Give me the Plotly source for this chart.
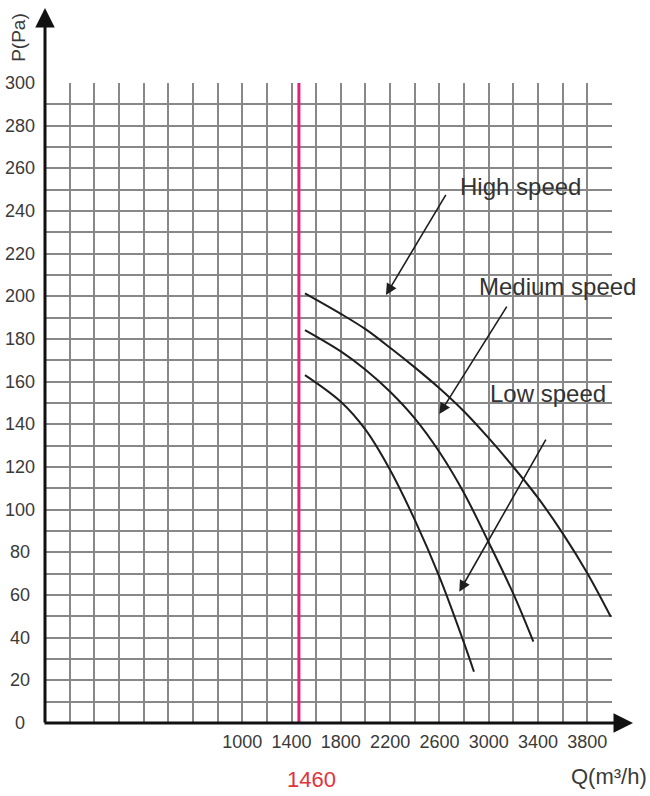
import plotly.graph_objects as go

# ---- data ----
Q_high = [1509, 1800, 2000, 2200, 2400, 2600, 2800, 3000, 3200, 3400, 3600, 3800, 3990]
P_high = [201.4, 191.8, 184.6, 175.9, 166.7, 156.9, 146.0, 133.5, 120.0, 105.5, 88.9, 70.2, 49.8]

Q_med = [1509, 1800, 2000, 2200, 2400, 2600, 2800, 3000, 3200, 3362]
P_med = [184.2, 174.2, 165.6, 155.3, 142.8, 127.0, 107.7, 84.6, 60.5, 38.1]

Q_low = [1509, 1800, 2000, 2200, 2400, 2600, 2800, 2880]
P_low = [163.1, 150.6, 137.5, 118.6, 95.2, 68.5, 37.4, 24.0]

x_ticks = [1000, 1400, 1800, 2200, 2600, 3000, 3400, 3800]
y_ticks = list(range(0, 301, 20))
marker_q = 1460
series_names = ["High speed", "Medium speed", "Low speed"]

FONT = "Liberation Sans, Arial, sans-serif"
GRID = "#888888"
CURVE = "#1e1e1e"
TICKCOL = "#3a3a3a"

fig = go.Figure()
for q, p, name in [(Q_high, P_high, series_names[0]),
                   (Q_med, P_med, series_names[1]),
                   (Q_low, P_low, series_names[2])]:
    fig.add_trace(go.Scatter(x=q, y=p, mode="lines", name=name,
                             line=dict(color=CURVE, width=2, shape="spline", smoothing=1.0),
                             showlegend=False, hoverinfo="skip"))

# magenta reference line
fig.add_trace(go.Scatter(x=[marker_q, marker_q], y=[0, 300], mode="lines",
                         line=dict(color="#e5207a", width=3), showlegend=False,
                         hoverinfo="skip"))

fig.update_layout(
    width=650, height=796,
    margin=dict(l=45, r=38, t=83, b=73),
    paper_bgcolor="white", plot_bgcolor="white",
    font=dict(family=FONT, color=TICKCOL, size=18),
    xaxis=dict(range=[-600, 4000], tickvals=x_ticks,
               ticktext=[str(v) for v in x_ticks],
               showgrid=True, gridcolor=GRID, gridwidth=1.5,
               minor=dict(tick0=-600, dtick=200, showgrid=True, gridcolor=GRID, gridwidth=1.5),
               zeroline=False, showline=False, ticks="", ticklabelstandoff=6,
               tickfont=dict(size=18, color=TICKCOL), fixedrange=True),
    yaxis=dict(range=[0, 300], tickvals=y_ticks, showticklabels=False,
               showgrid=True, gridcolor=GRID, gridwidth=1.5,
               minor=dict(tick0=0, dtick=10, showgrid=True, gridcolor=GRID, gridwidth=1.5),
               zeroline=False, showline=False, ticks="", fixedrange=True),
)

ann = []
# y tick labels, centred in the left margin as in the reference
for v in y_ticks:
    ann.append(dict(xref="paper", yref="y", x=-0.0441, y=v, text=str(v),
                    showarrow=False, xanchor="center", yanchor="middle",
                    font=dict(family=FONT, size=18, color=TICKCOL)))

# axis arrows (y axis up, x axis right)
ann.append(dict(xref="paper", yref="paper", x=0, y=1.117, ax=0, ay=716,
                text="", showarrow=True, arrowhead=2, arrowsize=1.3,
                arrowwidth=3, arrowcolor="#111"))
ann.append(dict(xref="paper", yref="paper", x=1.037, y=0, ax=-590, ay=0,
                text="", showarrow=True, arrowhead=2, arrowsize=1.3,
                arrowwidth=3, arrowcolor="#111"))

# pointer arrows for the curve labels
for (tx, ty, tax, tay) in [(2166, 200.6, 2659, 248.3),
                           (2599, 144.8, 3154, 195.9),
                           (2761, 61.5, 3470, 133.5)]:
    ann.append(dict(xref="x", yref="y", x=tx, y=ty, axref="x", ayref="y",
                    ax=tax, ay=tay, text="", showarrow=True, arrowhead=2,
                    arrowsize=1.4, arrowwidth=1.6, arrowcolor="#1e1e1e"))

# curve labels
for (name, lx, ly) in [(series_names[0], 3254, 251.3),
                       (series_names[1], 3558, 204.4),
                       (series_names[2], 3477, 154.5)]:
    ann.append(dict(xref="x", yref="y", x=lx, y=ly, text=name, showarrow=False,
                    xanchor="center", yanchor="middle",
                    font=dict(family=FONT, size=24, color="#333")))

# axis titles
ann.append(dict(xref="paper", yref="paper", x=-0.046, y=1.072, text="P(Pa)",
                textangle=-90, showarrow=False, xanchor="center", yanchor="middle",
                font=dict(family=FONT, size=19, color=TICKCOL)))
ann.append(dict(xref="paper", yref="paper", x=0.994, y=-0.084, text="Q(m\u00b3/h)",
                showarrow=False, xanchor="center", yanchor="middle",
                font=dict(family=FONT, size=22, color=TICKCOL)))
# red 1460 label
ann.append(dict(xref="x", yref="paper", x=marker_q, y=-0.089, xshift=13,
                text=str(marker_q), showarrow=False, xanchor="center", yanchor="middle",
                font=dict(family=FONT, size=22, color="#e0343a")))

fig.update_layout(annotations=ann)
fig.write_html("out.html", config={"displayModeBar": False},
               post_script="document.body.style.margin='0';document.body.style.padding='0';")
